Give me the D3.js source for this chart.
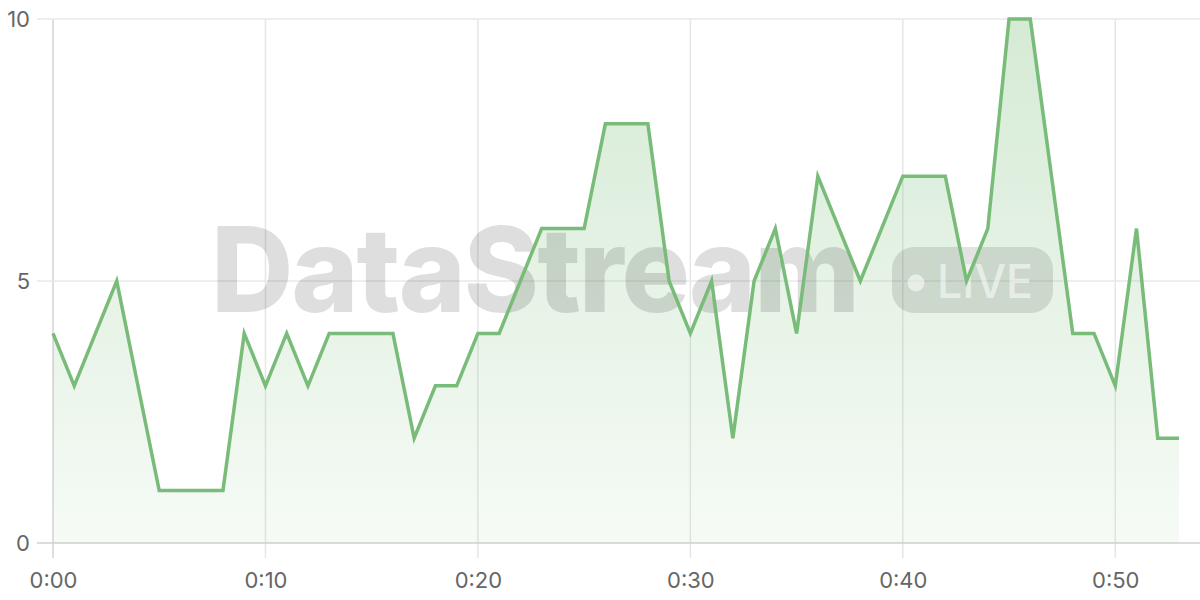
<!DOCTYPE html>
<html>
<head>
<meta charset="utf-8">
<script src="https://cdn.jsdelivr.net/npm/d3@7"></script>
<style>
  html, body { margin: 0; padding: 0; background: #fff; }
  svg { display: block; font-family: Inter, "Noto Sans", sans-serif; }
</style>
</head>
<body>
<svg id="chart" width="1200" height="600"></svg>
<script>
// Data: one value per minute
const minutes = d3.range(0, 54);
const values = [
  4, 3, 4, 5, 3, 1, 1, 1, 1, 4,
  3, 4, 3, 4, 4, 4, 4, 2, 3, 3,
  4, 4, 5, 6, 6, 6, 8, 8, 8, 5,
  4, 5, 2, 5, 6, 4, 7, 6, 5, 6,
  7, 7, 7, 5, 6, 10, 10, 7, 4, 4,
  3, 6, 2, 2
];
const xTicks = [0, 10, 20, 30, 40, 50];
const xTickLabels = ["0:00", "0:10", "0:20", "0:30", "0:40", "0:50"];
const yTicks = [0, 5, 10];
const watermarkText = "DataStream";
const badgeText = "LIVE";

const data = minutes.map((m, i) => ({ m, v: values[i] }));

const svg = d3.select("#chart");
const W = 1200;
const x = d3.scaleLinear().domain([0, 53]).range([53, 1179]);
const y = d3.scaleLinear().domain([0, 10]).range([543, 19]);

// gradient
const defs = svg.append("defs");
const grad = defs.append("linearGradient").attr("id", "areaGrad")
  .attr("x1", 0).attr("y1", 0).attr("x2", 0).attr("y2", 1)
  .attr("gradientUnits", "userSpaceOnUse")
  .attr("x1", 0).attr("y1", y(10)).attr("x2", 0).attr("y2", y(0));
grad.append("stop").attr("offset", "0%").attr("stop-color", "#7cbf7c").attr("stop-opacity", 0.32);
grad.append("stop").attr("offset", "100%").attr("stop-color", "#7cbf7c").attr("stop-opacity", 0.07);

// vertical grid
const vg = svg.append("g");
vg.selectAll("line").data(xTicks).join("line")
  .attr("x1", d => x(d)).attr("x2", d => x(d))
  .attr("y1", y(10)).attr("y2", 558)
  .attr("stroke", d => d === 0 ? "#d4d4d4" : "#e6e6e6")
  .attr("stroke-width", 1.5);

// horizontal grid
const hg = svg.append("g");
hg.selectAll("line").data(yTicks).join("line")
  .attr("x1", 37).attr("x2", W)
  .attr("y1", d => y(d)).attr("y2", d => y(d))
  .attr("stroke", d => d === 0 ? "#d0d0d0" : "#e8e8e8")
  .attr("stroke-width", 1.5);

// area
const area = d3.area().x(d => x(d.m)).y0(y(0)).y1(d => y(d.v));
svg.append("path").datum(data).attr("d", area).attr("fill", "url(#areaGrad)");

// watermark
const wm = svg.append("g");
const wt = wm.append("text")
  .attr("x", 211).attr("y", 312)
  .attr("font-size", 118).attr("font-weight", 800)
  .attr("letter-spacing", -2)
  .attr("fill", "#000").attr("fill-opacity", 0.13)
  .text(watermarkText);
const tw = wt.node().getComputedTextLength();
wt.attr("textLength", 647).attr("lengthAdjust", "spacingAndGlyphs");

wm.append("rect")
  .attr("x", 892).attr("y", 247).attr("width", 161).attr("height", 66)
  .attr("rx", 22)
  .attr("fill", "#000").attr("fill-opacity", 0.11);
wm.append("circle").attr("cx", 916).attr("cy", 283).attr("r", 8.5)
  .attr("fill", "#fff").attr("fill-opacity", 0.55);
wm.append("text")
  .attr("x", 937).attr("y", 298)
  .attr("font-size", 46).attr("font-weight", 500)
  .attr("fill", "#fff").attr("fill-opacity", 0.55)
  .attr("textLength", 96).attr("lengthAdjust", "spacingAndGlyphs")
  .text(badgeText);

// line
const line = d3.line().x(d => x(d.m)).y(d => y(d.v));
svg.append("path").datum(data).attr("d", line)
  .attr("fill", "none").attr("stroke", "#79bc79")
  .attr("stroke-width", 3.5).attr("stroke-linejoin", "miter");

// axes labels
const xAxis = d3.axisBottom(x).tickValues(xTicks).tickFormat((d, i) => xTickLabels[i]).tickSize(0).tickPadding(0);
const gx = svg.append("g").attr("transform", "translate(0,588)").call(xAxis);
gx.select(".domain").remove();
gx.selectAll("text").attr("dy", 0).attr("font-size", 22).attr("fill", "#666")
  .attr("font-family", "Inter, 'Noto Sans', sans-serif");

const yAxis = d3.axisLeft(y).tickValues(yTicks).tickFormat(d3.format("d")).tickSize(0).tickPadding(0);
const gy = svg.append("g").attr("transform", "translate(30,0)").call(yAxis);
gy.select(".domain").remove();
gy.selectAll("text").attr("dy", "0.35em").attr("font-size", 22).attr("fill", "#666")
  .attr("font-family", "Inter, 'Noto Sans', sans-serif");
</script>
</body>
</html>
